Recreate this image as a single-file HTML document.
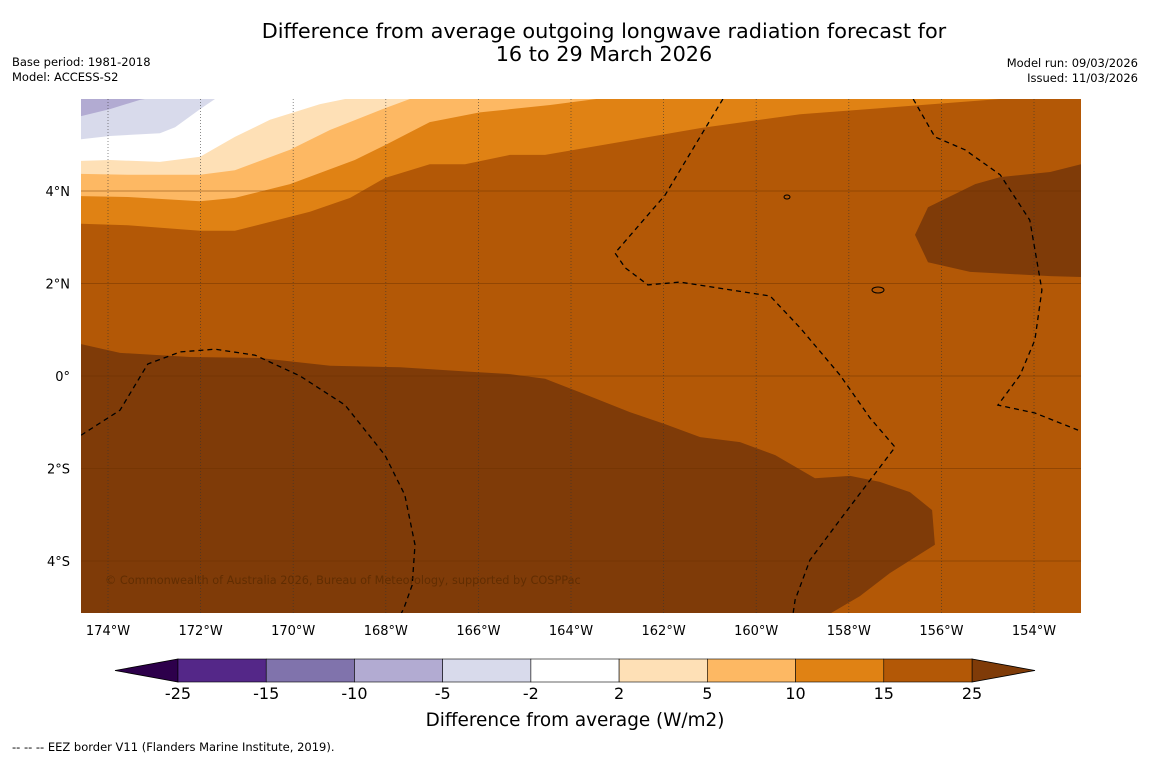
<!DOCTYPE html>
<html><head><meta charset="utf-8"><style>
body{margin:0;background:#fff;font-family:"DejaVu Sans","Liberation Sans",sans-serif;}
svg{display:block;font-family:"DejaVu Sans","Liberation Sans",sans-serif;}
</style></head><body>
<svg id="c" width="1150" height="758" xmlns="http://www.w3.org/2000/svg">
<defs><clipPath id="mc"><rect x="81" y="99" width="1000" height="514"/></clipPath></defs>
<text x="604" y="38" text-anchor="middle" font-size="20.8" fill="#000">Difference from average outgoing longwave radiation forecast for</text>
<text x="604" y="61" text-anchor="middle" font-size="20.8" fill="#000">16 to 29 March 2026</text>
<text x="12" y="66" font-size="11.5">Base period: 1981-2018</text>
<text x="12" y="81" font-size="11.5">Model: ACCESS-S2</text>
<text x="1138" y="67" font-size="11.5" text-anchor="end">Model run: 09/03/2026</text>
<text x="1138" y="82" font-size="11.5" text-anchor="end">Issued: 11/03/2026</text>
<g id="map" clip-path="url(#mc)"></g>
<g id="axes"></g>
<g id="cbar"></g>
<text x="575" y="726" text-anchor="middle" font-size="18.4">Difference from average (W/m2)</text>
<text x="12" y="751" font-size="11.5">--  --  -- EEZ border V11 (Flanders Marine Institute, 2019).</text>
</svg>
<script>
const lonTicks=[-174,-172,-170,-168,-166,-164,-162,-160,-158,-156,-154];
const latTicks=[4,2,0,-2,-4];
const cbLevels=[-25,-15,-10,-5,-2,2,5,10,15,25];
const cbColors=["#542788","#8073ac","#b2abd2","#d8daeb","#ffffff","#fee0b6","#fdb863","#e08214","#b35806"];
const lowColor="#2d004b", highColor="#7f3b08";
const baseColor="#b35806";
const cLightOrange=[[-174.58,3.29],[-173.57,3.26],[-172.01,3.14],[-171.26,3.14],[-169.64,3.55],[-168.77,3.85],[-168.02,4.28],[-167.05,4.58],[-166.29,4.58],[-165.32,4.78],[-164.56,4.78],[-162.94,5.06],[-161.21,5.36],[-159.05,5.66],[-157.33,5.79],[-154.73,5.99],[-154.73,6.3],[-175,6.3],[-175,3.29]];
const cOrange5=[[-174.58,3.89],[-173.57,3.87],[-172.01,3.78],[-171.26,3.85],[-170.07,4.15],[-168.67,4.67],[-168.02,4.99],[-167.05,5.49],[-165.97,5.70],[-164.45,5.86],[-163.37,6.0],[-163.37,6.3],[-175,6.3],[-175,3.89]];
const cPeach=[[-174.58,4.37],[-173.52,4.35],[-172.01,4.35],[-171.26,4.45],[-170.07,4.89],[-169.2,5.32],[-168.02,5.79],[-167.48,5.99],[-167.48,6.3],[-175,6.3],[-175,4.37]];
const cWhite=[[-174.58,4.65],[-173.96,4.67],[-172.88,4.63],[-172.01,4.74],[-171.26,5.17],[-170.5,5.54],[-169.42,5.88],[-168.88,5.99],[-168.88,6.3],[-175,6.3],[-175,4.65]];
const cLav=[[-174.58,5.12],[-173.96,5.19],[-172.88,5.25],[-172.55,5.38],[-172.01,5.77],[-171.69,5.99],[-171.69,6.3],[-175,6.3],[-175,5.12]];
const cPurple=[[-174.58,5.62],[-173.96,5.77],[-173.31,5.97],[-173.2,5.99],[-173.2,6.3],[-175,6.3],[-175,5.62]];
const cDarkSouth=[[-174.58,0.69],[-173.74,0.50],[-172.23,0.41],[-170.72,0.39],[-169.2,0.22],[-167.69,0.19],[-166.18,0.09],[-165.32,0.04],[-164.56,-0.06],[-163.81,-0.35],[-162.73,-0.78],[-161.97,-1.04],[-161.21,-1.32],[-160.35,-1.43],[-159.59,-1.71],[-158.73,-2.21],[-157.97,-2.16],[-157.33,-2.29],[-156.68,-2.51],[-156.2,-2.90],[-156.14,-3.65],[-157.11,-4.26],[-157.76,-4.76],[-158.51,-5.2],[-175,-5.2],[-175,0.69]];
const cDarkEast=[[-156.29,3.65],[-155.27,4.15],[-154.73,4.30],[-153.65,4.41],[-152.98,4.58],[-152.98,2.14],[-153.65,2.16],[-155.38,2.25],[-156.29,2.46],[-156.57,3.05]];
const eez1=[[-174.58,-1.28],[-173.74,-0.74],[-173.14,0.26],[-172.44,0.52],[-171.69,0.58],[-170.82,0.45],[-169.85,0],[-168.88,-0.63],[-168.02,-1.71],[-167.59,-2.57],[-167.37,-3.65],[-167.43,-4.52],[-167.61,-5.02],[-167.7,-5.2]];
const eez2=[[-160.72,5.99],[-161.97,3.91],[-163.05,2.66],[-162.83,2.34],[-162.34,1.97],[-161.65,2.03],[-159.70,1.73],[-159.05,1.04],[-158.19,0.02],[-157.54,-0.91],[-157.0,-1.54],[-157.54,-2.25],[-158.19,-3.11],[-158.84,-3.98],[-159.16,-4.84],[-159.2,-5.12]];
const eez3=[[-156.61,5.99],[-156.14,5.17],[-155.49,4.89],[-154.73,4.35],[-154.09,3.37],[-153.83,1.86],[-153.98,0.78],[-154.30,0.02],[-154.78,-0.63],[-153.98,-0.80],[-153.05,-1.17]];
const X=lon=>108+(lon+174)*46.3;
const Y=lat=>376-lat*46.25;
const NS="http://www.w3.org/2000/svg";
function mk(tag,attrs,parent){const e=document.createElementNS(NS,tag);for(const k in attrs)e.setAttribute(k,attrs[k]);parent.appendChild(e);return e;}
const map=document.getElementById('map');
const base=mk('rect',{x:81,y:99,width:1000,height:514,fill:baseColor},map);


const pts=a=>a.map(p=>X(p[0]).toFixed(1)+','+Y(p[1]).toFixed(1)).join(' ');
const fills=[[cLightOrange,cbColors[7],'anomaly-10-15-region'],[cOrange5,cbColors[6],'anomaly-5-10-region'],[cPeach,cbColors[5],'anomaly-2-5-region'],[cWhite,cbColors[4],'anomaly-neutral-region'],[cLav,cbColors[3],'anomaly-minus5-minus2-region'],[cPurple,cbColors[2],'anomaly-minus10-minus5-region'],[cDarkSouth,highColor,'anomaly-above-25-south-region'],[cDarkEast,highColor,'anomaly-above-25-east-region']];
fills.forEach(f=>{const p=mk('polygon',{points:pts(f[0]),fill:f[1]},map);

});
lonTicks.forEach(l=>{const g=mk('line',{x1:X(l),x2:X(l),y1:99,y2:613,stroke:'#333','stroke-width':0.8,'stroke-dasharray':'1,2',opacity:0.7},map);

});
latTicks.forEach(l=>{const g=mk('line',{x1:81,x2:1081,y1:Y(l),y2:Y(l),stroke:'#6b3000','stroke-width':0.8,opacity:0.6},map);

});
[eez1,eez2,eez3].forEach(e=>{const p=mk('polyline',{points:pts(e),fill:'none',stroke:'#000','stroke-width':1.3,'stroke-dasharray':'5,4'},map);

});
const isl1=mk('ellipse',{cx:787,cy:197,rx:3,ry:2,fill:'none',stroke:'#000','stroke-width':1},map);


const isl2=mk('ellipse',{cx:878,cy:290,rx:6,ry:3,fill:'none',stroke:'#000','stroke-width':1},map);


const cr=mk('text',{x:105,y:584,'font-size':11.3,fill:'#5a2a00',opacity:0.8},map);
cr.textContent='© Commonwealth of Australia 2026, Bureau of Meteorology, supported by COSPPac';


const axes=document.getElementById('axes');
lonTicks.forEach(l=>{const t=mk('text',{x:X(l),y:635,'font-size':13,'text-anchor':'middle'},axes);t.textContent=(-l)+'°W';

});
latTicks.forEach(l=>{const t=mk('text',{x:70,y:Y(l)+5,'font-size':13,'text-anchor':'end'},axes);t.textContent=l>0?l+'°N':l<0?(-l)+'°S':'0°';

});
const cb=document.getElementById('cbar');
const cbX0=178,cbX1=972,cbY=659,cbH=23,cw=(cbX1-cbX0)/cbColors.length;
const lt=mk('polygon',{points:`${cbX0},${cbY} ${cbX0},${cbY+cbH} 115,${cbY+cbH/2}`,fill:lowColor,stroke:'#000','stroke-width':0.8},cb);


const rt=mk('polygon',{points:`${cbX1},${cbY} ${cbX1},${cbY+cbH} 1035,${cbY+cbH/2}`,fill:highColor,stroke:'#000','stroke-width':0.8},cb);


cbColors.forEach((c,i)=>{const r=mk('rect',{x:cbX0+i*cw,y:cbY,width:cw,height:cbH,fill:c,stroke:'#000','stroke-width':0.6},cb);

});
cbLevels.forEach((v,i)=>{const t=mk('text',{x:cbX0+i*cw,y:699,'font-size':16,'text-anchor':'middle'},cb);t.textContent=v;

});
</script>
</body></html>
